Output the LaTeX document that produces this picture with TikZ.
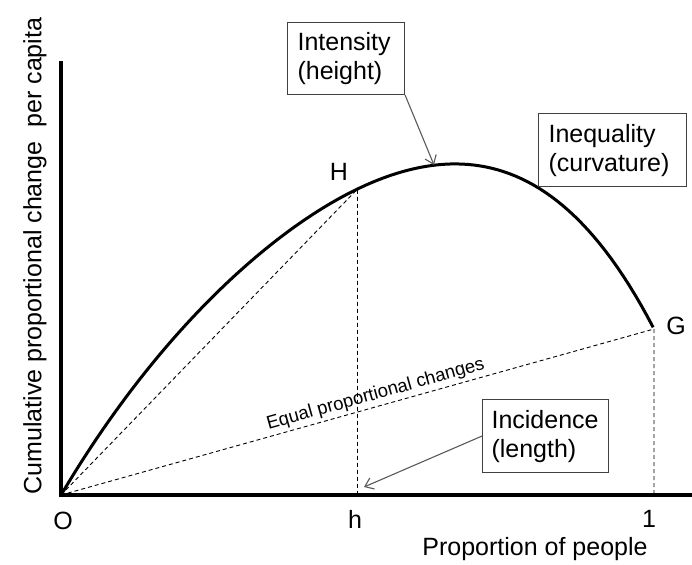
\documentclass[tikz,border=0pt]{standalone}
\usepackage{fontspec}
\setmainfont{Liberation Sans}
\usetikzlibrary{arrows.meta}
\begin{document}
\begin{tikzpicture}[x=1pt,y=-1pt,
  axisline/.style={line width=3.3pt, line join=miter},
  curveline/.style={line width=3pt},
  guide/.style={line width=0.9pt, dash pattern=on 4pt off 3pt},
  callout/.style={draw=black!75, line width=1.1pt, fill=white, anchor=north west, inner xsep=10pt, inner ysep=0pt, align=left, font=\fontsize{25}{29}\selectfont},
  pointer/.style={draw=black!65, line width=1.1pt, -{Straight Barb[length=8pt,width=12pt]}},
  lbl/.style={font=\fontsize{25}{29}\selectfont, inner sep=0pt}
]
\useasboundingbox (0,0) rectangle (692,564);
% key points
\coordinate (O) at (61,495);
\coordinate (ytop) at (61,61);
\coordinate (xend) at (692,495);
\coordinate (H) at (357.5,189);
\coordinate (G) at (654,329);
\coordinate (hfoot) at (357.5,495);
\coordinate (gfoot) at (654,495);
\coordinate (peak) at (434,165);
\coordinate (hmark) at (364,487);
% dashed guides
\draw[guide] (O) -- (H) -- (hfoot);
\draw[guide] (O) -- (G) -- (gfoot);
\path (O) -- (G) node[pos=0.536, sloped, above, inner sep=3pt, font=\fontsize{18.5}{20}\selectfont] (eqlabel) {Equal proportional changes};
% curve
\draw[curveline] plot[domain=0:1, samples=100, variable=\u] ({61+593*\u}, {495-(1000*\u-1080*\u*\u+970.1*\u*\u*\u-724.1*\u*\u*\u*\u)});
% axes
\draw[axisline] (ytop) -- (O) -- (xend);
% axis labels
\node[lbl] (lO) at (63,521) {O};
\node[lbl] (lh) at (355,519) {h};
\node[lbl] (l1) at (649,519) {1};
\node[lbl] (xlabel) at (535,549) {Proportion of people};
\node[lbl, rotate=90] (ylabel) at (35,256) {Cumulative proportional change\ \ per capita};
\node[lbl] (lH) at (339,172) {H};
\node[lbl] (lG) at (676,326) {G};
% callouts
\node[callout, text width=97pt, minimum height=72pt] (intensity) at (287,22) {Intensity\\(height)};
\node[callout, text width=128pt, minimum height=73pt] (inequality) at (538,113) {Inequality\\(curvature)};
\node[callout, inner xsep=9pt, text width=108pt, minimum height=73pt] (incidence) at (482,399) {Incidence\\(length)};
\draw[pointer] (intensity.south east) -- (peak);
\draw[pointer] (incidence.west) -- (hmark);
\end{tikzpicture}
\end{document}
